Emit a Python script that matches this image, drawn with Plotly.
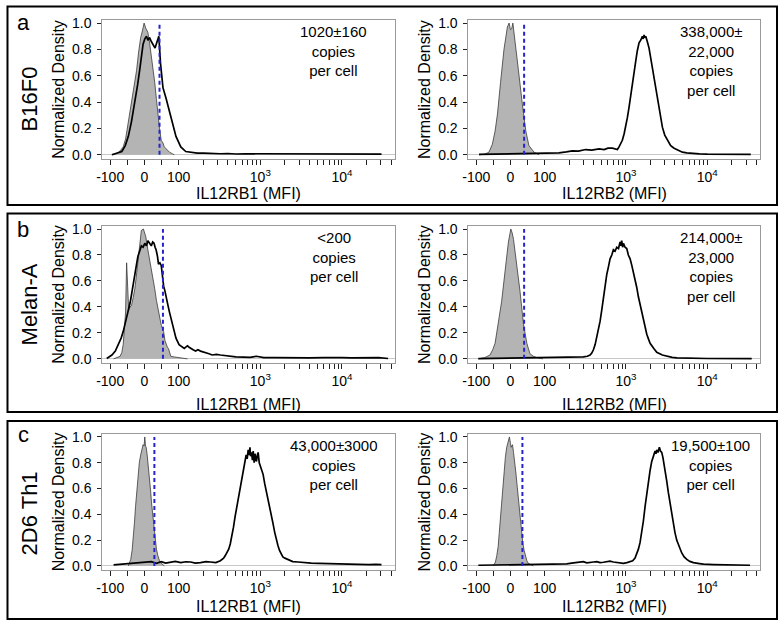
import numpy as np
import plotly.graph_objects as go

# ---------------- data (MFI values, normalized density) ----------------
a_left_ctrl_x = [-95, -80, -71, -62, -55, -47, -40, -32, -23, -17, -11, -6, -1, 4, 10, 15, 20, 25, 30, 35,
                 39, 44, 49, 54, 58, 65, 73, 80, 87]
a_left_ctrl_y = [0, 0.01, 0.03, 0.06, 0.12, 0.25, 0.39, 0.5, 0.64, 0.78, 0.89, 0.94, 1.0, 0.96, 0.93, 0.85,
                 0.76, 0.66, 0.55, 0.42, 0.31, 0.2, 0.11, 0.09, 0.06, 0.04, 0.02, 0.01, 0]
a_left_stain_x = [-95, -80, -66, -56, -47, -38, -28, -20, -14, -9, -4, 1, 6, 10, 15, 20, 25, 31, 37, 42, 47,
                  54, 63, 73, 82, 92, 106, 122, 140, 169, 203, 250, 324, 400, 500, 650, 800, 1000, 1303, 2000,
                  3000, 5000, 8340, 15000, 30550]
a_left_stain_y = [0, 0.01, 0.025, 0.07, 0.14, 0.25, 0.39, 0.53, 0.64, 0.74, 0.84, 0.88, 0.9, 0.87, 0.89,
                  0.86, 0.84, 0.81, 0.86, 0.9, 0.69, 0.51, 0.43, 0.34, 0.24, 0.14, 0.06, 0.025, 0.018,
                  0.013, 0.013, 0.01, 0.008, 0.01, 0.006, 0.008, 0.008, 0.006, 0.008, 0.006, 0.006, 0.005,
                  0.005, 0.006, 0.005]

a_right_ctrl_x = [-92, -75, -63, -53, -45, -38, -29, -19, -9, -4, 0, 4, 7, 13, 23, 35, 45, 54, 62, 69, 84]
a_right_ctrl_y = [0, 0.005, 0.02, 0.08, 0.18, 0.31, 0.55, 0.8, 0.97, 1.0, 0.95, 0.96, 1.0, 0.85, 0.65,
                  0.38, 0.18, 0.07, 0.04, 0.02, 0]
a_right_stain_x = [-92, -40, 0, 40, 84, 120, 150, 185, 219, 260, 320, 380, 467, 540, 600, 681, 740, 785,
                   822, 860, 903, 950, 993, 1040, 1091, 1140, 1199, 1260, 1318, 1380, 1449, 1520, 1592, 1630,
                   1670, 1710, 1750, 1830, 1923, 2010, 2113, 2210, 2323, 2430, 2553, 2680, 2805, 3000, 3236,
                   3550, 3908, 4400, 4943, 5600, 6561, 8000, 10000, 20000, 34277]
a_right_stain_y = [0.003, 0.005, 0.005, 0.006, 0.008, 0.012, 0.015, 0.022, 0.03, 0.028, 0.04, 0.035, 0.045,
                   0.04, 0.05, 0.05, 0.045, 0.04, 0.06, 0.08, 0.11, 0.16, 0.21, 0.28, 0.36, 0.45, 0.54,
                   0.63, 0.71, 0.79, 0.85, 0.87, 0.9, 0.88, 0.91, 0.89, 0.9, 0.86, 0.81, 0.74, 0.66, 0.58,
                   0.49, 0.42, 0.34, 0.27, 0.21, 0.15, 0.11, 0.07, 0.05, 0.035, 0.02, 0.015, 0.01, 0.007,
                   0.005, 0.004, 0.003]

b_left_ctrl_x = [-90, -78, -71, -66, -62, -58, -55, -52, -49, -46, -42, -38, -33, -28, -24, -20, -14, -9, -3,
                 1, 4, 10, 15, 20, 25, 30, 35, 39, 44, 49, 53, 56, 60, 63, 67, 70, 77, 87, 97, 128]
b_left_ctrl_y = [0, 0.01, 0.02, 0.05, 0.11, 0.25, 0.36, 0.74, 0.55, 0.38, 0.4, 0.41, 0.47, 0.54, 0.63, 0.74,
                 0.87, 0.99, 1.0, 0.97, 0.94, 0.84, 0.77, 0.69, 0.61, 0.54, 0.45, 0.39, 0.31, 0.26, 0.23,
                 0.21, 0.14, 0.11, 0.09, 0.08, 0.02, 0.015, 0.01, 0]
b_left_stain_x = [-110, -95, -85, -76, -68, -62, -55, -47, -42, -38, -33, -28, -23, -19, -14, -9, -4, 1, 6,
                  10, 15, 20, 24, 28, 31, 34, 38, 41, 45, 49, 53, 56, 60, 63, 68, 73, 78, 82, 87, 92, 101,
                  110, 117, 122, 128, 134, 140, 150, 161, 172, 185, 198, 213, 235, 257, 290, 324, 370, 428,
                  500, 620, 750, 898, 1000, 1100, 1500, 2070, 3000, 4000, 6000, 8340, 10000, 13000, 21100,
                  28000, 36800]
b_left_stain_y = [0.003, 0.03, 0.06, 0.11, 0.16, 0.21, 0.28, 0.36, 0.43, 0.49, 0.58, 0.67, 0.73, 0.79,
                  0.83, 0.87, 0.86, 0.89, 0.87, 0.91, 0.89, 0.87, 0.9, 0.89, 0.86, 0.84, 0.79, 0.73, 0.74,
                  0.72, 0.63, 0.56, 0.52, 0.49, 0.42, 0.36, 0.31, 0.26, 0.21, 0.16, 0.11, 0.09, 0.08, 0.09,
                  0.1, 0.09, 0.08, 0.07, 0.06, 0.07, 0.06, 0.055, 0.05, 0.04, 0.03, 0.035, 0.03, 0.025,
                  0.02, 0.015, 0.013, 0.012, 0.02, 0.015, 0.01, 0.01, 0.008, 0.01, 0.008, 0.01, 0.013,
                  0.01, 0.008, 0.008, 0.01, 0.003]

b_right_ctrl_x = [-94, -75, -60, -52, -45, -36, -26, -16, -6, 1, 5, 9, 18, 28, 38, 48, 57, 67, 77, 95]
b_right_ctrl_y = [0, 0.01, 0.03, 0.07, 0.12, 0.27, 0.44, 0.67, 0.90, 1.0, 0.97, 0.92, 0.75, 0.52, 0.27,
                  0.12, 0.04, 0.02, 0.01, 0]
b_right_stain_x = [-94, -40, 0, 40, 100, 150, 200, 250, 300, 335, 362, 380, 398, 418, 438, 460, 481, 505,
                   528, 555, 581, 610, 638, 670, 701, 735, 771, 810, 847, 865, 887, 910, 931, 975, 1023,
                   1070, 1125, 1180, 1236, 1300, 1358, 1420, 1493, 1560, 1641, 1720, 1803, 1900, 1982, 2200,
                   2393, 2800, 3170, 3700, 4217, 6000, 10000, 35200]
b_right_stain_y = [0.002, 0.004, 0.004, 0.005, 0.008, 0.008, 0.01, 0.012, 0.015, 0.02, 0.03, 0.045, 0.07,
                   0.11, 0.17, 0.23, 0.29, 0.38, 0.47, 0.56, 0.65, 0.71, 0.77, 0.8, 0.84, 0.83, 0.86, 0.85,
                   0.90, 0.87, 0.91, 0.86, 0.89, 0.86, 0.85, 0.8, 0.77, 0.72, 0.67, 0.6, 0.55, 0.48, 0.42,
                   0.35, 0.29, 0.24, 0.19, 0.15, 0.12, 0.08, 0.05, 0.03, 0.02, 0.012, 0.008, 0.005, 0.003,
                   0.002]

c_left_ctrl_x = [-47, -40, -36, -33, -29, -26, -22, -19, -15, -11, -7, -4, -1, 1, 3, 5, 8, 10, 14, 18, 21,
                 25, 28, 31, 35, 39, 44, 49, 58]
c_left_ctrl_y = [0, 0.05, 0.12, 0.2, 0.34, 0.46, 0.6, 0.71, 0.8, 0.86, 0.9, 0.94, 0.93, 1.0, 0.93, 0.92,
                 0.86, 0.81, 0.7, 0.58, 0.48, 0.38, 0.29, 0.2, 0.13, 0.08, 0.04, 0.02, 0]
c_left_stain_x = [-90, -75, -57, -40, -19, 0, 20, 35, 49, 62, 77, 90, 106, 122, 140, 160, 185, 215, 245, 285,
                  324, 340, 355, 372, 390, 410, 428, 448, 469, 490, 515, 540, 565, 590, 620, 645, 670, 690,
                  710, 730, 746, 760, 780, 800, 818, 840, 860, 880, 898, 920, 940, 970, 1002, 1040, 1081,
                  1130, 1186, 1240, 1303, 1360, 1429, 1500, 1567, 1640, 1718, 1800, 1888, 2000, 2168, 2300,
                  2495, 2900, 3296, 4200, 5236, 6500, 8340, 10500, 13240, 17000, 21100, 26000, 30550]
c_left_stain_y = [0.008, 0.012, 0.015, 0.02, 0.025, 0.03, 0.033, 0.02, 0.033, 0.022, 0.028, 0.035, 0.025,
                  0.032, 0.03, 0.022, 0.025, 0.033, 0.03, 0.025, 0.04, 0.05, 0.06, 0.08, 0.1, 0.13, 0.17,
                  0.23, 0.3, 0.38, 0.46, 0.54, 0.61, 0.69, 0.76, 0.8, 0.86, 0.83, 0.9, 0.86, 0.92, 0.85,
                  0.88, 0.82, 0.89, 0.8, 0.87, 0.83, 0.81, 0.86, 0.88, 0.8, 0.77, 0.73, 0.71, 0.64, 0.58,
                  0.52, 0.46, 0.39, 0.33, 0.26, 0.2, 0.16, 0.12, 0.09, 0.07, 0.06, 0.05, 0.04, 0.033, 0.03,
                  0.026, 0.022, 0.02, 0.018, 0.015, 0.017, 0.015, 0.012, 0.01, 0.012, 0.01]

c_right_ctrl_x = [-50, -44, -40, -36, -33, -29, -26, -22, -19, -15, -11, -7, -3, 0, 2, 4, 6, 9, 13, 16, 20,
                  24, 28, 32, 36, 40, 43, 48, 52, 67]
c_right_ctrl_y = [0, 0.03, 0.08, 0.15, 0.25, 0.38, 0.51, 0.63, 0.74, 0.84, 0.92, 0.96, 1.0, 0.95, 0.92,
                  0.93, 0.94, 0.88, 0.81, 0.72, 0.61, 0.5, 0.38, 0.27, 0.18, 0.12, 0.08, 0.04, 0.02, 0]
c_right_stain_x = [-94, -50, -11, 20, 57, 90, 117, 150, 187, 215, 248, 270, 299, 330, 362, 400, 438, 480,
                   528, 580, 638, 700, 771, 850, 931, 1030, 1125, 1210, 1294, 1360, 1422, 1490, 1563, 1640,
                   1718, 1800, 1888, 1980, 2075, 2180, 2280, 2340, 2393, 2480, 2576, 2660, 2754, 2850, 2944,
                   3050, 3170, 3320, 3483, 3650, 3828, 4000, 4207, 4500, 4853, 5200, 5598, 6100, 6761, 8000,
                   8974, 12000, 15810, 25000, 33540]
c_right_stain_y = [0.005, 0.006, 0.008, 0.01, 0.013, 0.012, 0.01, 0.012, 0.015, 0.022, 0.025, 0.03, 0.033,
                   0.024, 0.025, 0.03, 0.033, 0.025, 0.028, 0.032, 0.036, 0.03, 0.025, 0.022, 0.02, 0.025,
                   0.03, 0.04, 0.06, 0.09, 0.13, 0.18, 0.25, 0.35, 0.46, 0.56, 0.66, 0.74, 0.81, 0.85, 0.89,
                   0.87, 0.9, 0.88, 0.92, 0.89, 0.88, 0.84, 0.79, 0.73, 0.66, 0.57, 0.48, 0.4, 0.33, 0.26,
                   0.2, 0.15, 0.1, 0.07, 0.05, 0.035, 0.025, 0.018, 0.013, 0.01, 0.008, 0.006, 0.005]

thresholds = [44, 40, 54, 40, 29, 35]
copy_texts = ["1020±160<br>copies<br>per cell",
              "338,000±<br>22,000<br>copies<br>per cell",
              "<200<br>copies<br>per cell",
              "214,000±<br>23,000<br>copies<br>per cell",
              "43,000±3000<br>copies<br>per cell",
              "19,500±100<br>copies<br>per cell"]
x_titles = ["IL12RB1 (MFI)", "IL12RB2 (MFI)"] * 3
row_labels = ["B16F0", "Melan-A", "2D6 Th1"]
panel_letters = ["a", "b", "c"]
y_title = "Normalized Density"

tick_values = [-100, -50, 0, 50, 100, 200, 300, 400, 500, 600, 700, 800, 900,
               1000, 2000, 3000, 4000, 5000, 6000, 7000, 8000, 9000, 10000, 20000, 30000, 40000]
tick_names = {-100: "-100", 0: "0", 100: "100", 1000: "10<sup>3</sup>", 10000: "10<sup>4</sup>"}
y_ticks = [0.0, 0.2, 0.4, 0.6, 0.8, 1.0]

# ---------------- display transform (linear below 100, log above) ----------------
K = 0.42


def tr(v):
    v = np.asarray(v, dtype=float)
    return np.where(v <= 100, v / 100.0 * K, K + np.log10(np.maximum(v, 100.0) / 100.0))


W, H = 779, 625
FONT = "Liberation Sans, Arial, Helvetica, sans-serif"


def px(x):
    return x / W


def py(y):
    return 1 - y / H


ctrl = [(a_left_ctrl_x, a_left_ctrl_y), (a_right_ctrl_x, a_right_ctrl_y),
        (b_left_ctrl_x, b_left_ctrl_y), (b_right_ctrl_x, b_right_ctrl_y),
        (c_left_ctrl_x, c_left_ctrl_y), (c_right_ctrl_x, c_right_ctrl_y)]
stain = [(a_left_stain_x, a_left_stain_y), (a_right_stain_x, a_right_stain_y),
         (b_left_stain_x, b_left_stain_y), (b_right_stain_x, b_right_stain_y),
         (c_left_stain_x, c_left_stain_y), (c_right_stain_x, c_right_stain_y)]

col_dom = [(97, 392), (466, 760)]
col_annot_frac = [0.79, 0.83]
row_dom = [(15, 156), (224, 363), (435, 573)]
annot_top = [16, 225, 436]
xtitle_y = [191, 405, 610]

fig = go.Figure()
layout = dict(width=W, height=H, margin=dict(l=0, r=0, t=0, b=0),
              paper_bgcolor="white", plot_bgcolor="white", showlegend=False,
              font=dict(family=FONT, color="black"))
annotations = []
shapes = []

for i in range(6):
    r, c = divmod(i, 2)
    ax = "" if i == 0 else str(i + 1)
    xa, ya = "x" + ax, "y" + ax
    gx, gy = ctrl[i]
    sx, sy = stain[i]
    fig.add_trace(go.Scatter(x=tr(gx), y=gy, mode="lines", fill="tozeroy",
                             fillcolor="#b4b4b4", line=dict(color="#3a3a3a", width=0.8),
                             xaxis=xa, yaxis=ya, hoverinfo="skip"))
    fig.add_trace(go.Scatter(x=tr(sx), y=sy, mode="lines",
                             line=dict(color="black", width=1.7),
                             xaxis=xa, yaxis=ya, hoverinfo="skip"))
    thr = thresholds[i]
    fig.add_trace(go.Scatter(x=tr([thr, thr]), y=[0, 1], mode="lines",
                             line=dict(color="#2424cc", width=2, dash="4px,3px"),
                             xaxis=xa, yaxis=ya, hoverinfo="skip"))
    x0, x1 = col_dom[c]
    y0, y1 = row_dom[r]
    layout["xaxis" + ax] = dict(
        domain=[px(x0), px(x1)], range=[-0.517, 3.07], anchor=ya,
        tickmode="array", tickvals=list(tr(tick_values)),
        ticktext=[tick_names.get(t, "") for t in tick_values],
        ticks="outside", ticklen=5, tickwidth=1, tickcolor="#222",
        showline=True, linecolor="#9a9a9a", linewidth=1, mirror=True,
        showgrid=False, zeroline=False, tickfont=dict(size=14, family=FONT))
    layout["yaxis" + ax] = dict(
        domain=[py(y1), py(y0)], range=[-0.03, 1.025], anchor=xa,
        tickmode="array", tickvals=y_ticks, ticktext=["%.1f" % v for v in y_ticks],
        ticks="outside", ticklen=4, tickwidth=1, tickcolor="#222",
        showline=True, linecolor="#9a9a9a", linewidth=1, mirror=True,
        showgrid=False, zeroline=True, zerolinecolor="#c8c8c8", zerolinewidth=1,
        tickfont=dict(size=14, family=FONT), ticklabelstandoff=3)
    # copies annotation
    annotations.append(dict(text=copy_texts[i], xref="paper", yref="paper",
                            x=px(x0 + col_annot_frac[c] * (x1 - x0)), y=py(annot_top[r]),
                            xanchor="center", yanchor="top", showarrow=False,
                            font=dict(size=15, family=FONT, color="black")))
    # x title
    annotations.append(dict(text=x_titles[i], xref="paper", yref="paper",
                            x=px((x0 + x1) / 2), y=py(xtitle_y[r]),
                            xanchor="center", yanchor="middle", showarrow=False,
                            font=dict(size=16, family=FONT, color="black")))
    # y title
    annotations.append(dict(text=y_title, xref="paper", yref="paper",
                            x=px(x0 - 44), y=py((y0 + y1) / 2), textangle=-90,
                            xanchor="center", yanchor="middle", showarrow=False,
                            font=dict(size=16, family=FONT, color="black")))

row_label_y = [95, 304, 516]
letter_y = [18, 228, 436]
box_y = [(1.5, 203), (211.5, 413), (422, 623)]
for r in range(3):
    annotations.append(dict(text=row_labels[r], xref="paper", yref="paper",
                            x=px(24), y=py(row_label_y[r]), textangle=-90,
                            xanchor="center", yanchor="middle", showarrow=False,
                            font=dict(size=22, family=FONT, color="black")))
    annotations.append(dict(text=panel_letters[r], xref="paper", yref="paper",
                            x=px(17.5), y=py(letter_y[r]),
                            xanchor="center", yanchor="middle", showarrow=False,
                            font=dict(size=22, family=FONT, color="black")))
    b0, b1 = box_y[r]
    shapes.append(dict(type="rect", xref="paper", yref="paper",
                       x0=px(1.5), x1=px(777), y0=py(b1), y1=py(b0),
                       line=dict(color="black", width=2)))

layout["annotations"] = annotations
layout["shapes"] = shapes
fig.update_layout(**layout)
fig.write_html("out.html", config={"displayModeBar": False},
               post_script="document.body.style.margin='0';document.body.style.padding='0';")
